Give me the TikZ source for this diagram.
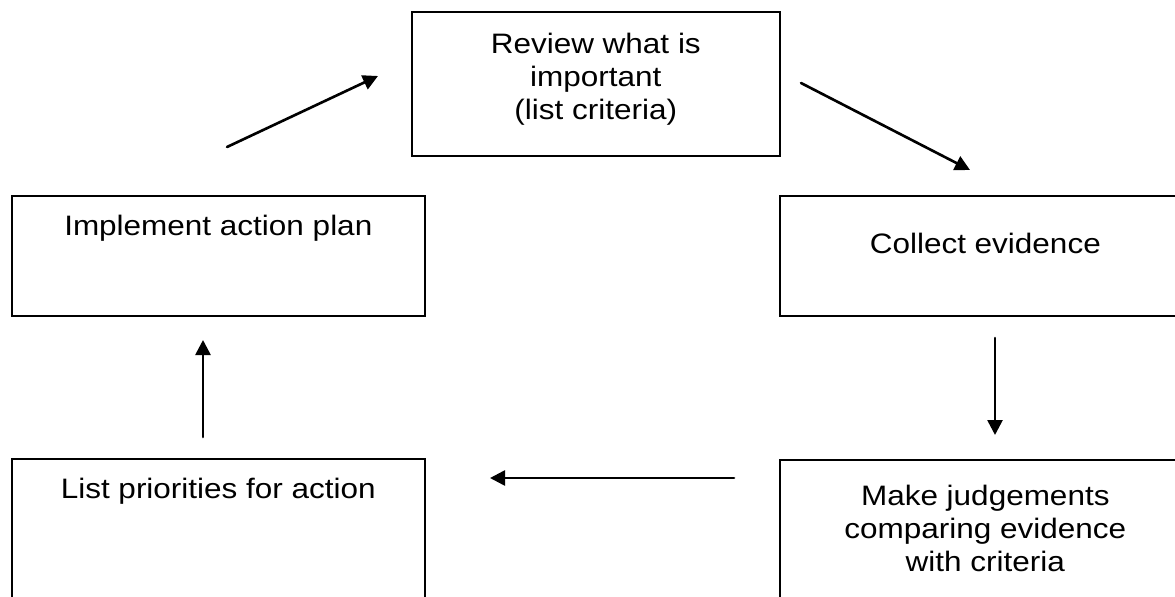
\documentclass[tikz,border=0pt]{standalone}
\usepackage{fontspec}
\setmainfont{Liberation Sans}[FakeStretch=1.12]
\usepackage{tkz-euclide}
\usetikzlibrary{positioning,arrows.meta}
\tikzset{>={Stealth[inset=0pt,length=3mm,width=3mm]}}
\tikzset{stage/.style={draw, line width=0.9pt, anchor=north west, inner sep=0pt},
  stagetext/.style={align=center, inner sep=0pt, font=\fontsize{16}{18.8}\selectfont}}

\begin{document}
\begin{tikzpicture}
    \useasboundingbox (0,0) rectangle (23.5,-11.92);
    \clip (0,0) rectangle (23.5,-11.92);
    \node[stage, minimum width=7.36cm, minimum height=2.88cm] (R) at (8.22,-0.22) {};
    \node[stage, minimum width=8.26cm, minimum height=2.40cm] (I) at (0.22,-3.90) {};
    \node[stage, minimum width=8.22cm, minimum height=2.40cm] (C) at (15.58,-3.90) {};
    \node[stage, minimum width=8.26cm, minimum height=3.40cm] (L) at (0.22,-9.16) {};
    \node[stage, minimum width=8.22cm, minimum height=3.40cm] (M) at (15.58,-9.18) {};
    \node[stagetext, below=0.44cm of R.north] (Rt) {Review what is\\important\\(list criteria)};
    \node[stagetext, below=0.40cm of I.north] (It) {Implement action plan};
    \node[stagetext, below=0.76cm of C.north] (Ct) {Collect evidence};
    \node[stagetext, below=0.40cm of L.north] (Lt) {List priorities for action};
    \node[stagetext, below=0.52cm of M.north] (Mt) {Make judgements\\comparing evidence\\with criteria};
    \tkzDefPoints{4.54/-2.94/A, 7.56/-1.52/B, 16.02/-1.66/D, 19.40/-3.40/E}
    \tkzDefPoints{19.90/-6.76/F, 19.90/-8.70/G, 14.68/-9.56/H, 9.80/-9.56/J, 4.06/-8.74/K, 4.06/-6.80/N}
    \tkzDrawSegments[->, line width=1.5pt](A,B D,E F,G H,J K,N)
   %\tkzLabelPoints(A,B,D,E,F,G,H,J,K,N)
\end{tikzpicture}
\end{document}
